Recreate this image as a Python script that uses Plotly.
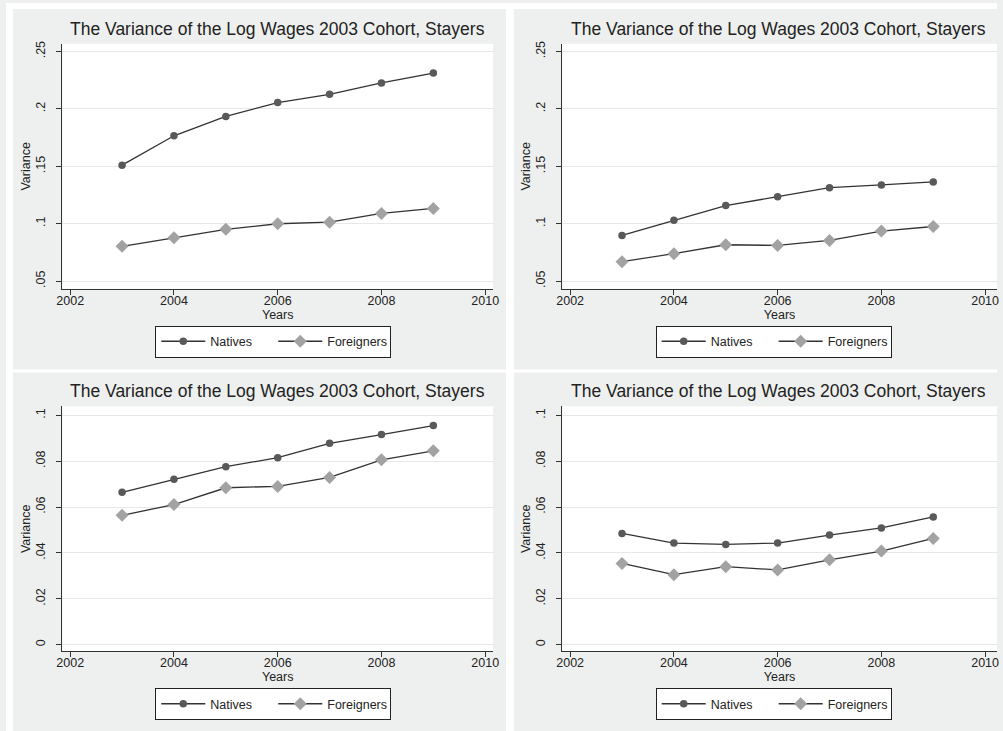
import plotly.graph_objects as go

# ---------------- data ----------------
years = [2003, 2004, 2005, 2006, 2007, 2008, 2009]

tl_natives = [0.151, 0.1766, 0.1934, 0.2055, 0.2127, 0.2226, 0.2312]
tl_foreigners = [0.0803, 0.0878, 0.0951, 0.1000, 0.1014, 0.1090, 0.1133]

tr_natives = [0.0898, 0.1031, 0.1158, 0.1236, 0.1314, 0.1338, 0.1364]
tr_foreigners = [0.0670, 0.0739, 0.0817, 0.0811, 0.0855, 0.0936, 0.0976]

bl_natives = [0.0664, 0.0721, 0.0776, 0.0815, 0.0878, 0.0916, 0.0955]
bl_foreigners = [0.0564, 0.0611, 0.0684, 0.0690, 0.0729, 0.0806, 0.0845]

br_natives = [0.0485, 0.0443, 0.0437, 0.0443, 0.0478, 0.0509, 0.0557]
br_foreigners = [0.0354, 0.0305, 0.0340, 0.0326, 0.0370, 0.0408, 0.0463]

x_ticks = [2002, 2004, 2006, 2008, 2010]
x_ticklabels = ["2002", "2004", "2006", "2008", "2010"]
top_yticks = [0.05, 0.10, 0.15, 0.20, 0.25]
top_yticklabels = [".05", ".1", ".15", ".2", ".25"]
bot_yticks = [0.0, 0.02, 0.04, 0.06, 0.08, 0.10]
bot_yticklabels = ["0", ".02", ".04", ".06", ".08", ".1"]

title_text = "The Variance of the Log Wages 2003 Cohort, Stayers"
series_names = ["Natives", "Foreigners"]

# ---------------- layout geometry (pixels) ----------------
W, H = 1003, 731
FONT = "Liberation Sans, Arial, sans-serif"
TXT = "#222222"
PANEL_BG = "#eef0ef"

def px_x(v):
    return v / W

def px_y(v):
    return 1 - v / H

# panel plot areas: (left, right, top, bottom) in px
panels = [
    dict(l=57, r=493, t=41, b=287, nat=tl_natives, frn=tl_foreigners,
         yr=[0.04332, 0.25668], yt=top_yticks, ytl=top_yticklabels,
         xr=[2001.848, 2010.152], cx=275, lx=270.5, title_y=26, leg_y=340),
    dict(l=563, r=1003, t=41, b=287, nat=tr_natives, frn=tr_foreigners,
         yr=[0.04332, 0.25668], yt=top_yticks, ytl=top_yticklabels,
         xr=[2001.848, 2010.229], cx=781.5, lx=777, title_y=26, leg_y=340),
    dict(l=57, r=493, t=405, b=651, nat=bl_natives, frn=bl_foreigners,
         yr=[-0.0029, 0.1039], yt=bot_yticks, ytl=bot_yticklabels,
         xr=[2001.848, 2010.152], cx=275, lx=270.5, title_y=390, leg_y=704),
    dict(l=563, r=1003, t=405, b=651, nat=br_natives, frn=br_foreigners,
         yr=[-0.0029, 0.1039], yt=bot_yticks, ytl=bot_yticklabels,
         xr=[2001.848, 2010.229], cx=781.5, lx=777, title_y=390, leg_y=704),
]

fig = go.Figure()
layout = dict(
    width=W, height=H,
    margin=dict(l=0, r=0, t=0, b=0),
    paper_bgcolor=PANEL_BG,
    plot_bgcolor="white",
    font=dict(family=FONT, size=12, color=TXT),
    annotations=[],
    shapes=[],
)

for i, p in enumerate(panels):
    n = i + 1
    xa = "x" if n == 1 else f"x{n}"
    ya = "y" if n == 1 else f"y{n}"
    leg = "legend" if n == 1 else f"legend{n}"

    fig.add_trace(go.Scatter(
        x=years, y=p["nat"], name=series_names[0], mode="lines+markers",
        xaxis=xa, yaxis=ya, legend=leg,
        line=dict(color="#333333", width=1.3),
        marker=dict(symbol="circle", size=7.5, color="#595959"),
    ))
    fig.add_trace(go.Scatter(
        x=years, y=p["frn"], name=series_names[1], mode="lines+markers",
        xaxis=xa, yaxis=ya, legend=leg,
        line=dict(color="#333333", width=1.3),
        marker=dict(symbol="diamond", size=10, color="#a2a2a2"),
    ))

    xkey = "xaxis" if n == 1 else f"xaxis{n}"
    ykey = "yaxis" if n == 1 else f"yaxis{n}"
    layout[xkey] = dict(
        domain=[px_x(p["l"]), px_x(p["r"])],
        anchor=ya, range=p["xr"],
        tickmode="array", tickvals=x_ticks, ticktext=x_ticklabels,
        ticks="outside", ticklen=5, tickcolor="#333333", tickwidth=1,
        ticklabelstandoff=-5,
        showline=True, linecolor="#333333", linewidth=1,
        showgrid=False, zeroline=False,
        tickfont=dict(size=12.5, color=TXT, family=FONT),
        title=dict(text="Years", font=dict(size=12.5, color=TXT, family=FONT), standoff=0),
    )
    layout[ykey] = dict(
        domain=[px_y(p["b"]), px_y(p["t"])],
        anchor=xa, range=p["yr"],
        tickmode="array", tickvals=p["yt"], ticktext=p["ytl"],
        tickangle=-90,
        ticks="outside", ticklen=5, tickcolor="#333333", tickwidth=1,
        ticklabelstandoff=6,
        showline=True, linecolor="#333333", linewidth=1,
        showgrid=True, gridcolor="#e8e8e8", gridwidth=1,
        zeroline=False,
        tickfont=dict(size=12.5, color=TXT, family=FONT),
        title=dict(text="Variance", font=dict(size=12.5, color=TXT, family=FONT), standoff=0),
    )
    layout[leg] = dict(
        orientation="h",
        x=px_x(p["lx"]), xanchor="center",
        y=px_y(p["leg_y"]), yanchor="middle",
        bgcolor="white", bordercolor="#222222", borderwidth=1,
        font=dict(size=12.5, color=TXT, family=FONT),
        itemwidth=44, entrywidth=58, entrywidthmode="pixels",
        itemclick=False, itemdoubleclick=False,
    )
    layout["annotations"].append(dict(
        text=title_text, xref="paper", yref="paper",
        x=px_x(p["cx"]), y=px_y(p["title_y"]),
        xanchor="center", yanchor="middle", showarrow=False,
        font=dict(size=17.5, color=TXT, family=FONT),
    ))

# white gutters between the four gray panels
gutters = [
    (0, 7, 0, H),        # left strip
    (0, W, 0, 6),        # top strip
    (506, 514, 0, H),    # vertical gap
    (0, W, 368, 371),    # horizontal gap
]
for x0, x1, y0, y1 in gutters:
    layout["shapes"].append(dict(
        type="rect", xref="paper", yref="paper",
        x0=px_x(x0), x1=px_x(x1), y0=px_y(y1), y1=px_y(y0),
        fillcolor="white", line=dict(width=0), layer="below",
    ))

fig.update_layout(**layout)
fig.write_html("out.html")
